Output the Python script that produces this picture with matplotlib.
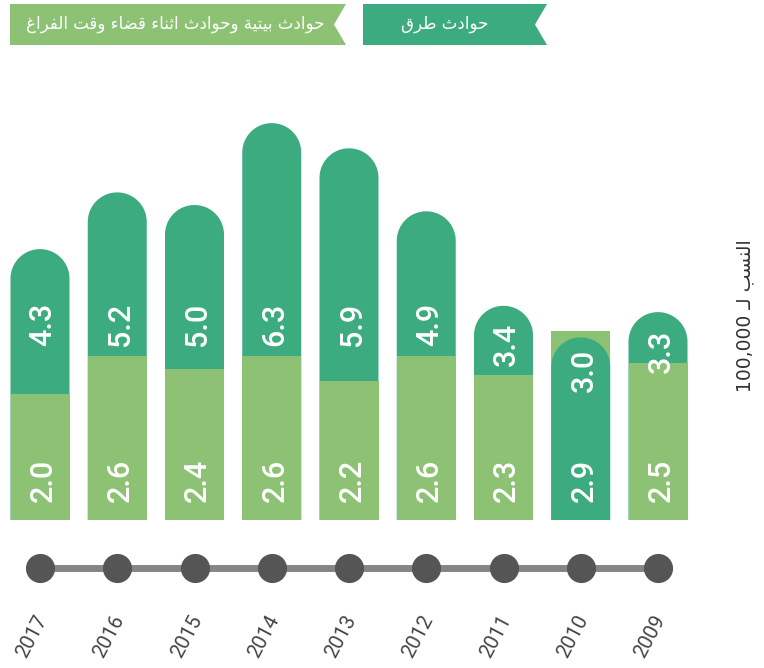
import re
import numpy as np
import matplotlib
matplotlib.use("Agg")
import matplotlib.pyplot as plt
from matplotlib.patches import Polygon, Rectangle

# ---------------- data ----------------
years = ["2017", "2016", "2015", "2014", "2013", "2012", "2011", "2010", "2009"]
road = [4.3, 5.2, 5.0, 6.3, 5.9, 4.9, 3.4, 2.9, 3.3]      # dark green, rounded
home = [2.0, 2.6, 2.4, 2.6, 2.2, 2.6, 2.3, 3.0, 2.5]      # light green, square
legend_road = "حوادث طرق"
legend_home = "حوادث بيتية وحوادث اثناء قضاء وقت الفراغ"
y_label = "النسب لـ 100,000"

DARK = "#3dab80"
LIGHT = "#8dc274"

# ---------------- Arabic shaping (presentation forms + visual order) --------
FORMS = {
    'ا': (0xFE8D, 0xFE8E, None, None),
    'ب': (0xFE8F, 0xFE90, 0xFE91, 0xFE92),
    'ة': (0xFE93, 0xFE94, None, None),
    'ت': (0xFE95, 0xFE96, 0xFE97, 0xFE98),
    'ث': (0xFE99, 0xFE9A, 0xFE9B, 0xFE9C),
    'ح': (0xFEA1, 0xFEA2, 0xFEA3, 0xFEA4),
    'د': (0xFEA9, 0xFEAA, None, None),
    'ر': (0xFEAD, 0xFEAE, None, None),
    'س': (0xFEB1, 0xFEB2, 0xFEB3, 0xFEB4),
    'ض': (0xFEBD, 0xFEBE, 0xFEBF, 0xFEC0),
    'ط': (0xFEC1, 0xFEC2, 0xFEC3, 0xFEC4),
    'غ': (0xFECD, 0xFECE, 0xFECF, 0xFED0),
    'ف': (0xFED1, 0xFED2, 0xFED3, 0xFED4),
    'ق': (0xFED5, 0xFED6, 0xFED7, 0xFED8),
    'ل': (0xFEDD, 0xFEDE, 0xFEDF, 0xFEE0),
    'ن': (0xFEE5, 0xFEE6, 0xFEE7, 0xFEE8),
    'و': (0xFEED, 0xFEEE, None, None),
    'ي': (0xFEF1, 0xFEF2, 0xFEF3, 0xFEF4),
    'ء': (0xFE80, None, None, None),
}
TATWEEL = 'ـ'


def joins_next(c):
    return c == TATWEEL or (c in FORMS and FORMS[c][2] is not None)


def joins_prev(c):
    return c == TATWEEL or (c in FORMS and FORMS[c][1] is not None)


def shape(text):
    out = []
    for i, c in enumerate(text):
        if c not in FORMS:
            out.append(c)
            continue
        p = text[i - 1] if i > 0 else ''
        n = text[i + 1] if i + 1 < len(text) else ''
        iso, fin, ini, med = FORMS[c]
        cp = joins_next(p) and fin is not None
        cn = ini is not None and joins_prev(n)
        if cp and cn:
            code = med
        elif cp:
            code = fin
        elif cn:
            code = ini
        else:
            code = iso
        out.append(chr(code))
    s = ''.join(out)
    tokens = re.findall(r'[0-9][0-9,.]*|.', s)
    return ''.join(reversed(tokens))


AR_FONT = ["DejaVu Sans"]

# ---------------- figure ----------------
W, H = 764, 668
fig = plt.figure(figsize=(W / 100, H / 100), dpi=100)
fig.patch.set_facecolor("white")

XPX = 77.25          # pixels per category
YPX = 63.0           # pixels per unit
AX_W = 700
AX_H = 440
BASE = 520           # baseline pixel (from top)

ax = fig.add_axes([0, (H - BASE) / H, AX_W / W, AX_H / H])
xlim = (-40 / XPX, (AX_W - 40) / XPX)
ax.set_xlim(xlim)
ax.set_ylim(0, AX_H / YPX)
ax.axis("off")

x = np.arange(len(years))
bw = 59 / XPX
ry = (bw / 2) * XPX / YPX


def rounded_bar(xc, h, color, z):
    x0, x1 = xc - bw / 2, xc + bw / 2
    yb = max(h - ry, 0)
    th = np.linspace(0, np.pi, 60)
    arc = list(zip(xc + (bw / 2) * np.cos(th), yb + ry * np.sin(th)))
    verts = [(x0, 0), (x1, 0), (x1, yb)] + arc + [(x0, yb)]
    ax.add_patch(Polygon(verts, closed=True, fc=color, ec="none", zorder=z))


def square_bar(xc, h, color, z):
    ax.add_patch(Rectangle((xc - bw / 2, 0), bw, h, fc=color, ec="none", zorder=z))


lab_kw = dict(rotation=90, ha="center", va="center", color="white",
              fontsize=22, family="Roboto", fontweight="medium", zorder=10)
for xi, r, hm in zip(x, road, home):
    if r >= hm:
        rounded_bar(xi, r, DARK, 2)
        square_bar(xi, hm, LIGHT, 3)
        back_v = r
        front_v = hm
    else:
        square_bar(xi, hm, LIGHT, 2)
        rounded_bar(xi, r, DARK, 3)
        back_v = hm
        front_v = r
    ax.text(xi + 3 / XPX, min(back_v - 0.62, 3.1), f"{back_v:.1f}", **lab_kw)
    ax.text(xi + 3 / XPX, 0.63, f"{front_v:.1f}", **lab_kw)

# ---------------- timeline ----------------
ax2 = fig.add_axes([0, 0, AX_W / W, 148 / H])
ax2.set_xlim(xlim)
ax2.set_ylim(0, 148)
ax2.axis("off")
ax2.plot(x, [100] * len(x), color="#858585", lw=5, solid_capstyle="butt", zorder=1)
ax2.scatter(x, [100] * len(x), s=440, color="#555555", zorder=2, linewidths=0)
for xi, yr in zip(x, years):
    ax2.text(xi - 8 / XPX, 32, yr, rotation=62, ha="center", va="center",
             fontsize=14.5, color="#444444", family="Roboto")

# ---------------- legend flags ----------------
def px(xp, yp):
    return (xp / W, 1 - yp / H)


light_flag = [px(10, 4), px(346, 4), px(334, 24.5), px(346, 45), px(10, 45)]
dark_flag = [px(363, 4), px(547, 4), px(535, 24.5), px(547, 45), px(363, 45)]
fig.add_artist(Polygon(light_flag, closed=True, fc=LIGHT, ec="none",
                       transform=fig.transFigure))
fig.add_artist(Polygon(dark_flag, closed=True, fc=DARK, ec="none",
                       transform=fig.transFigure))
fig.text(*px(175, 24), shape(legend_home), ha="center", va="center",
         color="white", fontsize=12, family=AR_FONT)
fig.text(*px(445, 24), shape(legend_road), ha="center", va="center",
         color="white", fontsize=12, family=AR_FONT)

# ---------------- y label ----------------
fig.text(*px(745, 316), shape(y_label), rotation=90, ha="center", va="center",
         color="#333333", fontsize=13.5, family=AR_FONT)

fig.savefig("out.png", dpi=100, facecolor="white")
